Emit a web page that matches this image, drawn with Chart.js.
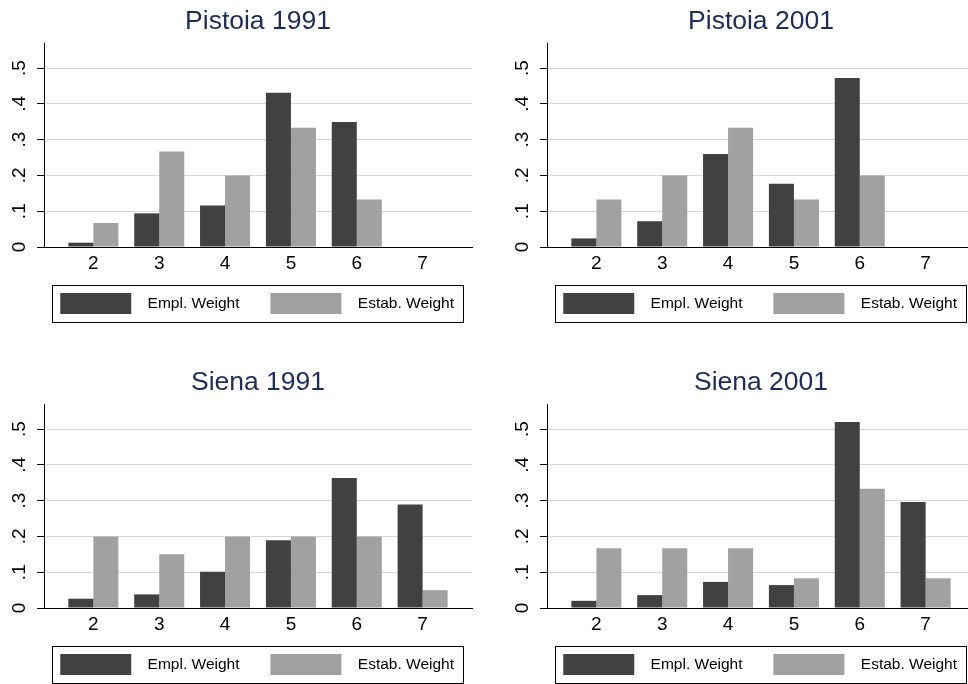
<!DOCTYPE html>
<html>
<head>
<meta charset="utf-8">
<script src="https://cdn.jsdelivr.net/npm/chart.js@4.4.1/dist/chart.umd.min.js"></script>
<style>
    html, body { margin: 0; padding: 0; background: #fff; }
    body { width: 968px; height: 684px; overflow: hidden; position: relative; }
    .panel { position: absolute; width: 484px; height: 342px; }
</style>
</head>
<body>
<div class="panel" style="left:0;top:0"><canvas id="c0" width="484" height="342"></canvas></div>
<div class="panel" style="left:503px;top:0"><canvas id="c1" width="484" height="342"></canvas></div>
<div class="panel" style="left:0;top:361px"><canvas id="c2" width="484" height="342"></canvas></div>
<div class="panel" style="left:503px;top:361px"><canvas id="c3" width="484" height="342"></canvas></div>
<script>
// firm size classes on the x axis
const categories = [2, 3, 4, 5, 6, 7];
const seriesLabels = ['Empl. Weight', 'Estab. Weight'];
const panelTitles = ['Pistoia 1991', 'Pistoia 2001', 'Siena 1991', 'Siena 2001'];
const yTickLabels = ['0', '.1', '.2', '.3', '.4', '.5'];

const pistoia1991Empl = [0.012, 0.094, 0.116, 0.431, 0.349, 0];
const pistoia1991Estab = [0.067, 0.267, 0.2, 0.333, 0.133, 0];
const pistoia2001Empl = [0.024, 0.072, 0.26, 0.177, 0.472, 0];
const pistoia2001Estab = [0.133, 0.2, 0.333, 0.133, 0.2, 0];
const siena1991Empl = [0.026, 0.038, 0.101, 0.189, 0.363, 0.289];
const siena1991Estab = [0.2, 0.15, 0.2, 0.2, 0.2, 0.05];
const siena2001Empl = [0.02, 0.036, 0.073, 0.064, 0.52, 0.296];
const siena2001Estab = [0.167, 0.167, 0.167, 0.083, 0.333, 0.083];

const panels = [
    [pistoia1991Empl, pistoia1991Estab],
    [pistoia2001Empl, pistoia2001Estab],
    [siena1991Empl, siena1991Estab],
    [siena2001Empl, siena2001Estab],
];

const FONT = 'Liberation Sans, Arial, Helvetica, sans-serif';
const colors = ['#414141', '#a1a1a1'];

// stata-ish frame around the legend keys
const legendFrame = {
    id: 'legendFrame',
    afterDraw(chart) {
        const hb = chart.legend && chart.legend.legendHitBoxes;
        if (!hb || !hb.length) return;
        const last = hb[hb.length - 1];
        const ctx = chart.ctx;
        ctx.save();
        ctx.strokeStyle = '#000';
        ctx.lineWidth = 1;
        const l = Math.round(hb[0].left - 8) + 0.5;
        const t = Math.round(hb[0].top - 8) + 0.5;
        const r = Math.round(last.left + last.width + 9) + 0.5;
        const b = Math.round(hb[0].top + hb[0].height + 8) + 0.5;
        ctx.strokeRect(l, t, r - l, b - t);
        ctx.restore();
    },
};

// a bit of air between key and text, and between the two keys
const legendText = (t, i) => '  ' + t + (i === 0 ? '   ' : '');

function makeChart(id, title, series) {
    const datasets = series.map((vals, i) => ({
        label: seriesLabels[i],
        data: vals.map((v, j) => ({ x: categories[j], y: v })),
        backgroundColor: colors[i],
        borderWidth: 0,
        categoryPercentage: 0.76,
        barPercentage: 1,
    }));
    return new Chart(document.getElementById(id), {
        type: 'bar',
        data: { datasets },
        plugins: [legendFrame],
        options: {
            responsive: false, animation: false, devicePixelRatio: 1,
            layout: { padding: { left: 7, right: 12, top: 0, bottom: 18 } },
            plugins: {
                tooltip: { enabled: false },
                title: {
                    display: true, text: title, fullSize: false, color: '#1c2d5a',
                    font: { family: FONT, size: 26.5, weight: 'normal' }, padding: { top: 6, bottom: 5.2 },
                },
                legend: {
                    position: 'bottom', align: 'end',
                    labels: {
                        boxWidth: 71, boxHeight: 21, padding: 18, color: '#000',
                        font: { family: FONT, size: 15.5 },
                        generateLabels: (chart) => Chart.defaults.plugins.legend.labels.generateLabels(chart)
                            .map((l, i) => ({ ...l, text: legendText(l.text, i), lineWidth: 0 })),
                    },
                },
            },
            scales: {
                x: {
                    type: 'linear', min: 1.25, max: 7.75, offset: false,
                    grid: { display: false, drawTicks: false, offset: false },
                    border: { display: true, color: '#000', width: 1 },
                    ticks: { stepSize: 1, includeBounds: false, padding: 5, color: '#000', font: { family: FONT, size: 19 } },
                    afterFit: (s) => { s.height = 28; },
                },
                y: {
                    min: 0, max: 0.57,
                    grid: { color: (c) => (c.tick && c.tick.value === 0 ? '#000' : '#d8d8d8'), tickColor: '#000', tickLength: 7, lineWidth: 1 },
                    border: { display: true, color: '#000', width: 1 },
                    ticks: {
                        stepSize: 0.1, includeBounds: false, padding: 9.5, color: '#000',
                        minRotation: 90, maxRotation: 90, crossAlign: 'center',
                        font: { family: FONT, size: 19 },
                        callback: (v, i) => yTickLabels[i],
                    },
                    afterFit: (s) => { s.width = 37; },
                },
            },
        },
    });
}

panels.forEach((series, i) => makeChart('c' + i, panelTitles[i], series));
</script>
</body>
</html>
